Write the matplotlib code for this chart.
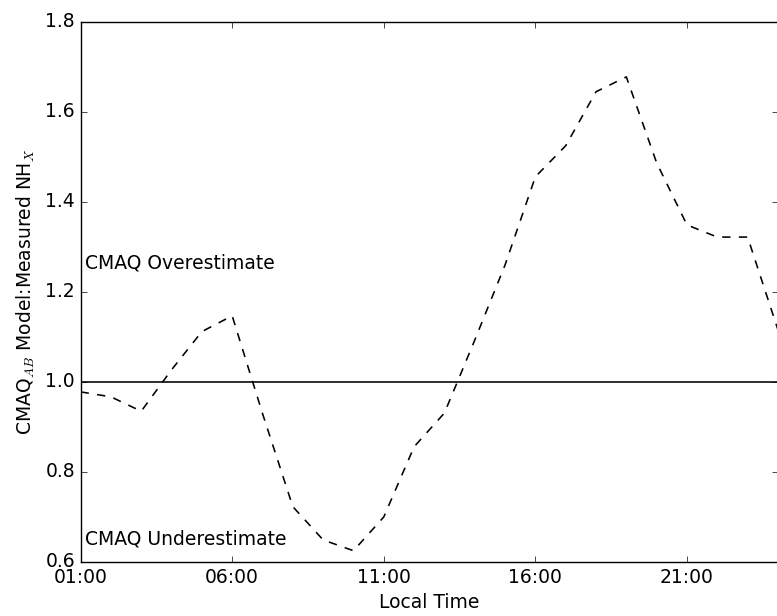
import matplotlib
matplotlib.use("Agg")
import matplotlib.pyplot as plt

plt.style.use("classic")
plt.rcParams.update({"font.size": 13.5, "lines.linewidth": 1.15,
                     "xtick.major.size": 4.6, "ytick.major.size": 4.6})

# hourly CMAQ_AB model : measured NHx ratio
hours = [1, 2, 3, 4, 5, 6, 7, 8, 9, 10, 11, 12,
         13, 14, 15, 16, 17, 18, 19, 20, 21, 22, 23, 24]
ratio = [0.978, 0.967, 0.935, 1.027, 1.112, 1.147, 0.93, 0.723,
         0.649, 0.625, 0.70, 0.856, 0.931, 1.093, 1.26, 1.456,
         1.525, 1.645, 1.678, 1.487, 1.349, 1.322, 1.322, 1.116]
tick_hours = [1, 6, 11, 16, 21]
tick_labels = ["01:00", "06:00", "11:00", "16:00", "21:00"]

fig = plt.figure(figsize=(7.77, 6.16), dpi=100, facecolor="white")
ax = fig.add_axes([0.1037, 0.0877, 0.8975, 0.8766])

ax.plot(hours, ratio, "k--", linewidth=1.15)
ax.axhline(1.0, color="k", linewidth=1.15)

ax.text(1.15, 1.265, "CMAQ Overestimate", va="center", ha="left")
ax.text(1.15, 0.652, "CMAQ Underestimate", va="center", ha="left")

ax.set_xlim(1, 24)
ax.set_ylim(0.6, 1.8)
ax.set_xticks(tick_hours)
ax.set_xticklabels(tick_labels)
ax.set_xlabel("Local Time")
ax.set_ylabel(r"CMAQ$_{AB}$ Model:Measured NH$_X$", labelpad=6)

fig.savefig("out.png", dpi=100, facecolor="white")
